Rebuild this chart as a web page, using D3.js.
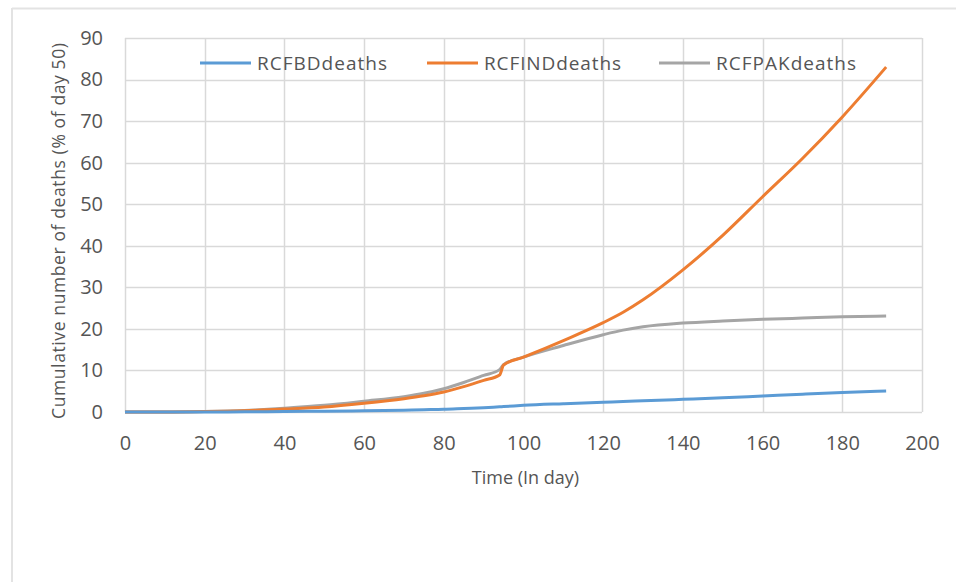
<!DOCTYPE html>
<html>
<head>
<meta charset="utf-8">
<script src="https://cdn.jsdelivr.net/npm/d3@7"></script>
<style>
  body { margin: 0; background: #fff; }
  text { font-family: "Open Sans", "Noto Sans", sans-serif; fill: #555; }
</style>
</head>
<body>
<div id="chart"></div>
<script>
// days
var days = [0, 10, 20, 30, 40, 50, 60, 70, 75, 80, 85, 90, 94, 95, 100, 110, 120, 125, 130, 140, 150, 160, 170, 180, 191];

var bdDeaths  = [0, 0, 0, 0.05, 0.1, 0.2, 0.3, 0.45, 0.55, 0.65, 0.85, 1.05, 1.25, 1.3, 1.6, 2.0, 2.35, 2.5, 2.7, 3.05, 3.4, 3.85, 4.3, 4.7, 5.05];
var indDeaths = [0, 0, 0.1, 0.3, 0.7, 1.2, 2.1, 3.2, 3.9, 4.8, 6.1, 7.6, 8.9, 11.3, 13.2, 17.2, 21.5, 24.0, 27.0, 34.2, 42.5, 51.8, 61.0, 71.0, 83.0];
var pakDeaths = [0, 0, 0.1, 0.35, 0.9, 1.6, 2.6, 3.7, 4.5, 5.6, 7.1, 8.8, 10.2, 11.4, 13.2, 16.0, 18.6, 19.7, 20.5, 21.4, 21.9, 22.3, 22.6, 22.9, 23.1];

var seriesNames = ["RCFBDdeaths", "RCFINDdeaths", "RCFPAKdeaths"];
var seriesColors = ["#5b9bd5", "#ed7d31", "#a5a5a5"];
var xTicks = [0, 20, 40, 60, 80, 100, 120, 140, 160, 180, 200];
var yTicks = [0, 10, 20, 30, 40, 50, 60, 70, 80, 90];

var W = 956, H = 582;
var margin = {top: 38, right: 34, bottom: 170, left: 125};
var width = W - margin.left - margin.right;
var height = H - margin.top - margin.bottom;

var svg = d3.select("#chart").append("svg")
    .attr("width", W)
    .attr("height", H);

// page frame
svg.append("line").attr("x1", 12).attr("x2", W).attr("y1", 8.5).attr("y2", 8.5)
    .style("stroke", "#e3e3e3").style("stroke-width", 2);
svg.append("line").attr("x1", 12).attr("x2", 12).attr("y1", 8).attr("y2", H)
    .style("stroke", "#e3e3e3").style("stroke-width", 2);

var g = svg.append("g")
    .attr("transform", "translate(" + margin.left + "," + margin.top + ")");

var x = d3.scaleLinear().domain([0, 200]).range([0, width]);
var y = d3.scaleLinear().domain([0, 90]).range([height, 0]);

// gridlines
g.append("g").selectAll("line").data(yTicks).enter().append("line")
    .attr("x1", 0).attr("x2", width)
    .attr("y1", function(d) { return Math.round(y(d)) + 0.5; })
    .attr("y2", function(d) { return Math.round(y(d)) + 0.5; })
    .style("stroke", "#d9d9d9").style("stroke-width", 1.5);
g.append("g").selectAll("line").data(xTicks).enter().append("line")
    .attr("x1", function(d) { return Math.round(x(d)) + 0.5; })
    .attr("x2", function(d) { return Math.round(x(d)) + 0.5; })
    .attr("y1", 0).attr("y2", height)
    .style("stroke", "#d9d9d9").style("stroke-width", 1.5);

// axes (labels only)
var xAxis = g.append("g")
    .attr("transform", "translate(0," + height + ")")
    .call(d3.axisBottom(x).tickValues(xTicks).tickSize(0).tickPadding(24));
var yAxis = g.append("g")
    .call(d3.axisLeft(y).tickValues(yTicks).tickSize(0).tickPadding(22));
[xAxis, yAxis].forEach(function(a) {
    a.select(".domain").remove();
    a.selectAll("text").attr("font-size", 20).style("fill", "#555")
        .attr("font-family", "'Open Sans', sans-serif");
});

g.append("text")
    .attr("x", width / 2 + 2).attr("y", height + 72)
    .attr("text-anchor", "middle")
    .attr("font-size", 18)
    .text("Time (In day)");

g.append("text")
    .attr("transform", "rotate(-90)")
    .attr("x", -height / 2 - 6).attr("y", -60)
    .attr("text-anchor", "middle")
    .attr("font-size", 17.5)
    .attr("textLength", 376)
    .text("Cumulative number of deaths (% of day  50)");

// series
var allSeries = [bdDeaths, indDeaths, pakDeaths];
var line = d3.line()
    .x(function(d, i) { return x(days[i]); })
    .y(function(d) { return y(d); })
    .curve(d3.curveMonotoneX);

[2, 1, 0].forEach(function(k) {
    g.append("path")
        .datum(allSeries[k])
        .attr("d", line)
        .style("fill", "none")
        .style("stroke", seriesColors[k])
        .style("stroke-width", 3)
        .style("stroke-linejoin", "round");
});

// legend
var legendX = [75, 302, 534];
var legendW = [130, 137, 140];
var leg = g.selectAll(".legend").data(seriesNames).enter().append("g")
    .attr("class", "legend")
    .attr("transform", function(d, i) { return "translate(" + legendX[i] + ",25)"; });
leg.append("line")
    .attr("x1", 0).attr("x2", 51)
    .style("stroke", function(d, i) { return seriesColors[i]; })
    .style("stroke-width", 3);
leg.append("text")
    .attr("x", 57).attr("dy", "0.35em")
    .attr("font-size", 19)
    .attr("textLength", function(d, i) { return legendW[i]; })
    .text(function(d) { return d; });
</script>
</body>
</html>
